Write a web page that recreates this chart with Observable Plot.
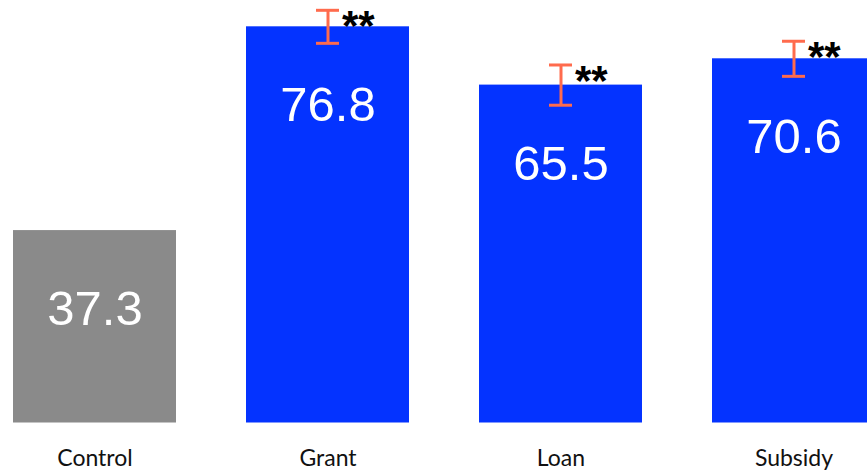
<!DOCTYPE html>
<html>
<head>
<meta charset="utf-8">
<script src="https://cdn.jsdelivr.net/npm/d3@7"></script>
<script src="https://cdn.jsdelivr.net/npm/@observablehq/plot@0.6"></script>
<style>
  html, body { margin: 0; padding: 0; background: #fff; overflow: hidden; }
</style>
</head>
<body>
<div id="chart"></div>
<script>
// Share of households, by treatment arm
const groups = ["Control", "Grant", "Loan", "Subsidy"];
const values = [37.3, 76.8, 65.5, 70.6];
const errors = [null, 3.2, 3.9, 3.4];
const stars  = ["", "**", "**", "**"];
const fills  = ["#8a8a8a", "#0433ff", "#0433ff", "#0433ff"];

const rows = groups.map((g, i) => ({group: g, value: values[i], err: errors[i], stars: stars[i], fill: fills[i]}));
const treated = rows.filter(d => d.err != null);

const chart = Plot.plot({
  width: 867,
  height: 470,
  marginTop: 0,
  marginBottom: 47.5,
  marginLeft: 0,
  marginRight: 0,
  style: {background: "#fff", overflow: "hidden"},
  x: {domain: groups, range: [12, 876.5], paddingInner: 0.3, paddingOuter: 0, label: null},
  y: {domain: [0, 81.9], axis: null},
  marks: [
    Plot.barY(rows, {x: "group", y: "value", fill: d => d.fill}),
    Plot.text(rows, {
      x: "group", y: "value", text: d => d.value.toFixed(1),
      dy: 79, fill: "#fff", fontSize: 49,
      fontFamily: "Liberation Sans, Arial, sans-serif"
    }),
    Plot.ruleX(treated, {x: "group", y1: d => d.value - d.err, y2: d => d.value + d.err, stroke: "#ff6b4d", strokeWidth: 3}),
    Plot.tickY(treated, {x: "group", y: d => d.value + d.err, stroke: "#ff6b4d", strokeWidth: 3, insetLeft: 70, insetRight: 70}),
    Plot.tickY(treated, {x: "group", y: d => d.value - d.err, stroke: "#ff6b4d", strokeWidth: 3, insetLeft: 70, insetRight: 70}),
    Plot.text(treated, {
      x: "group", y: d => d.value + d.err, text: "stars",
      textAnchor: "start", dx: 14, dy: 16.5, fill: "#000",
      fontSize: 42, fontWeight: "bold",
      fontFamily: "Liberation Sans, Arial, sans-serif",
      style: "letter-spacing: 2px"
    }),
    Plot.axisX({
      tickSize: 0, tickPadding: 27, fontSize: 23, label: null,
      fontFamily: "Lato, sans-serif", fill: "#111"
    })
  ]
});

document.getElementById("chart").append(chart);
</script>
</body>
</html>
